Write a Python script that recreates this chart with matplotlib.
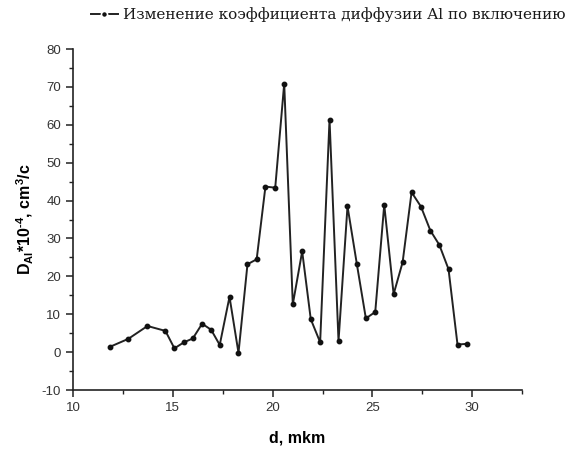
import matplotlib
matplotlib.use("Agg")
import matplotlib.pyplot as plt
from matplotlib.ticker import MultipleLocator

plt.rcParams["axes.unicode_minus"] = False
plt.rcParams["mathtext.fontset"] = "custom"
plt.rcParams["mathtext.rm"] = "Liberation Sans"
plt.rcParams["mathtext.bf"] = "Liberation Sans:bold"

# depth, mkm
d = [11.85, 12.77, 13.73, 14.63, 15.08, 15.56, 16.0, 16.47, 16.92, 17.35,
     17.84, 18.29, 18.74, 19.2, 19.64, 20.13, 20.58, 21.01, 21.48, 21.91,
     22.38, 22.85, 23.3, 23.75, 24.22, 24.67, 25.14, 25.59, 26.06, 26.51,
     26.96, 27.43, 27.9, 28.35, 28.81, 29.26, 29.75]
# D_Al * 1e4, cm^3/c
D_al = [1.4, 3.5, 6.9, 5.6, 1.0, 2.6, 3.6, 7.5, 5.9, 1.9,
        14.6, -0.2, 23.2, 24.5, 43.7, 43.4, 70.9, 12.6, 26.6, 8.7,
        2.6, 61.4, 2.9, 38.5, 23.2, 8.9, 10.6, 38.9, 15.3, 23.7,
        42.2, 38.4, 32.1, 28.3, 21.9, 2.0, 2.2]

legend_label = "Изменение коэффициента диффузии Al по включению"

fig = plt.figure(figsize=(5.77, 4.5), dpi=100)
ax = fig.add_axes([0.1265, 0.1333, 0.7785, 0.7577])

line, = ax.plot(d, D_al, color="#222222", lw=1.4, marker="o", ms=3.2,
                mfc="#111111", mec="#111111")

ax.set_xlim(10, 32.5)
ax.set_ylim(-10, 80)
ax.xaxis.set_major_locator(MultipleLocator(5))
ax.xaxis.set_minor_locator(MultipleLocator(2.5))
ax.yaxis.set_major_locator(MultipleLocator(10))
ax.yaxis.set_minor_locator(MultipleLocator(5))

for s in ("top", "right"):
    ax.spines[s].set_visible(False)
for s in ("left", "bottom"):
    ax.spines[s].set_linewidth(1.2)
    ax.spines[s].set_color("#222222")

ax.tick_params(which="major", direction="out", length=5, width=1.1,
               labelsize=9.5, colors="#222222", labelcolor="#333333")
ax.tick_params(which="minor", direction="out", length=3, width=1.0,
               colors="#222222")
for lab in ax.get_xticklabels() + ax.get_yticklabels():
    lab.set_family("Liberation Sans")

ax.set_xlabel("d, mkm", fontsize=11.5, fontweight="bold",
              family="Liberation Sans", labelpad=12)
ax.set_ylabel("D$_{\\mathbf{Al}}$*10$^{\\mathbf{\u20104}}$, cm$^{\\mathbf{3}}$/c",
              fontsize=11.5, fontweight="bold", family="Liberation Sans",
              labelpad=4)

leg = fig.legend([line], [legend_label], loc="upper right",
                 bbox_to_anchor=(0.985, 0.99), frameon=False,
                 borderpad=0.2, borderaxespad=0.0,
                 prop={"family": "DejaVu Serif", "size": 11},
                 handlelength=1.8, handletextpad=0.3)
# small gaps around the dot in the legend key
h = leg.legend_handles[0]
h.set_markeredgecolor("white")
h.set_markeredgewidth(1.2)
h.set_markersize(4.4)
for t in leg.get_texts():
    t.set_color("#1a1a1a")

fig.savefig("out.png", dpi=100)
